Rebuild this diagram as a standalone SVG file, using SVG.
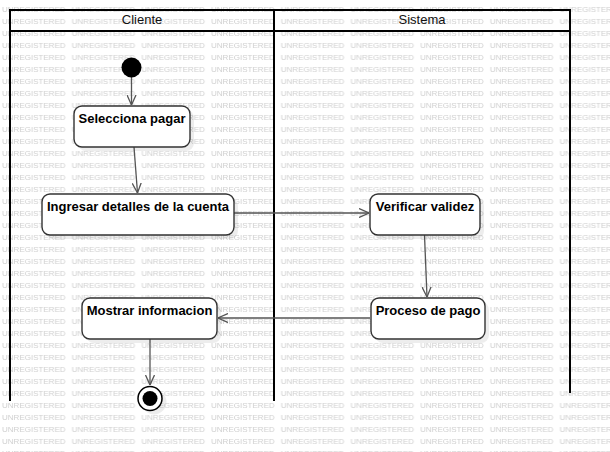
<svg xmlns="http://www.w3.org/2000/svg" width="610" height="452" viewBox="0 0 610 452">
<style>
.wm{font-family:"Liberation Sans",Arial,sans-serif;font-size:8px;fill:#cfcfcf}
.lane{fill:none;stroke:#000;stroke-width:2}
.hdr{font-family:"Liberation Sans",Arial,sans-serif;font-size:13px;fill:#111;text-anchor:middle}
.act rect.b{fill:#fff;stroke:#333;stroke-width:1.4}
.act rect.s{fill:#000;opacity:0.07}
.act text{font-family:"Liberation Sans",Arial,sans-serif;font-size:13px;font-weight:bold;fill:#000;text-anchor:middle}
.con{fill:none;stroke:#555;stroke-width:1.3}
</style>
<defs>
<pattern id="wm" patternUnits="userSpaceOnUse" x="2" y="3" width="69.7" height="12">
<text class="wm" x="0" y="9">UNREGISTERED</text>
</pattern>
<marker id="arr" viewBox="0 0 10 10" refX="10" refY="5" markerWidth="10" markerHeight="10" markerUnits="userSpaceOnUse" orient="auto">
<path d="M0,0.5 L10,5 L0,9.5" fill="none" stroke="#555" stroke-width="1.3"/>
</marker>
</defs>
<rect x="0" y="0" width="610" height="452" fill="#fff"/>
<rect x="0" y="0" width="610" height="452" fill="url(#wm)"/>
<g id="lanes">
<g id="lane-cliente">
<path class="lane" d="M10,401 V10 H274 V401"/>
<text class="hdr" x="142" y="24">Cliente</text>
</g>
<g id="lane-sistema">
<path class="lane" d="M274,10 H570 V393"/>
<text class="hdr" x="422" y="24">Sistema</text>
</g>
<path class="lane" d="M10,31 H570"/>
</g>
<g id="connectors">
<path class="con" marker-end="url(#arr)" d="M131.5,77 L131.5,105"/>
<path class="con" marker-end="url(#arr)" d="M134,147 L137.5,193"/>
<path class="con" marker-end="url(#arr)" d="M234,213 L369,213"/>
<path class="con" marker-end="url(#arr)" d="M424.5,235 L427,297"/>
<path class="con" marker-end="url(#arr)" d="M370,318 L218,318"/>
<path class="con" marker-end="url(#arr)" d="M150,339 L150,385"/>
</g>
<g id="start">
<circle cx="131.5" cy="67.5" r="10" fill="#000"/>
</g>
<g id="selecciona" class="act">
<rect class="s" x="78" y="110" width="116" height="41" rx="8"/>
<rect class="b" x="74" y="106" width="116" height="41" rx="8"/>
<text x="132" y="123">Selecciona pagar</text>
</g>
<g id="ingresar" class="act">
<rect class="s" x="46" y="198" width="192" height="41" rx="8"/>
<rect class="b" x="42" y="194" width="192" height="41" rx="8"/>
<text x="138" y="211">Ingresar detalles de la cuenta</text>
</g>
<g id="verificar" class="act">
<rect class="s" x="374" y="198" width="110" height="41" rx="8"/>
<rect class="b" x="370" y="194" width="110" height="41" rx="8"/>
<text x="425" y="211">Verificar validez</text>
</g>
<g id="proceso" class="act">
<rect class="s" x="375" y="302" width="114" height="41" rx="8"/>
<rect class="b" x="371" y="298" width="114" height="41" rx="8"/>
<text x="428" y="315">Proceso de pago</text>
</g>
<g id="mostrar" class="act">
<rect class="s" x="86" y="302" width="135" height="41" rx="8"/>
<rect class="b" x="82" y="298" width="135" height="41" rx="8"/>
<text x="149.5" y="315">Mostrar informacion</text>
</g>
<g id="end">
<circle cx="154" cy="402" r="12.5" fill="#000" opacity="0.07"/>
<circle cx="150" cy="398.5" r="12" fill="#fff" stroke="#000" stroke-width="1.5"/>
<circle cx="150" cy="398.5" r="7.5" fill="#000"/>
</g>
</svg>
